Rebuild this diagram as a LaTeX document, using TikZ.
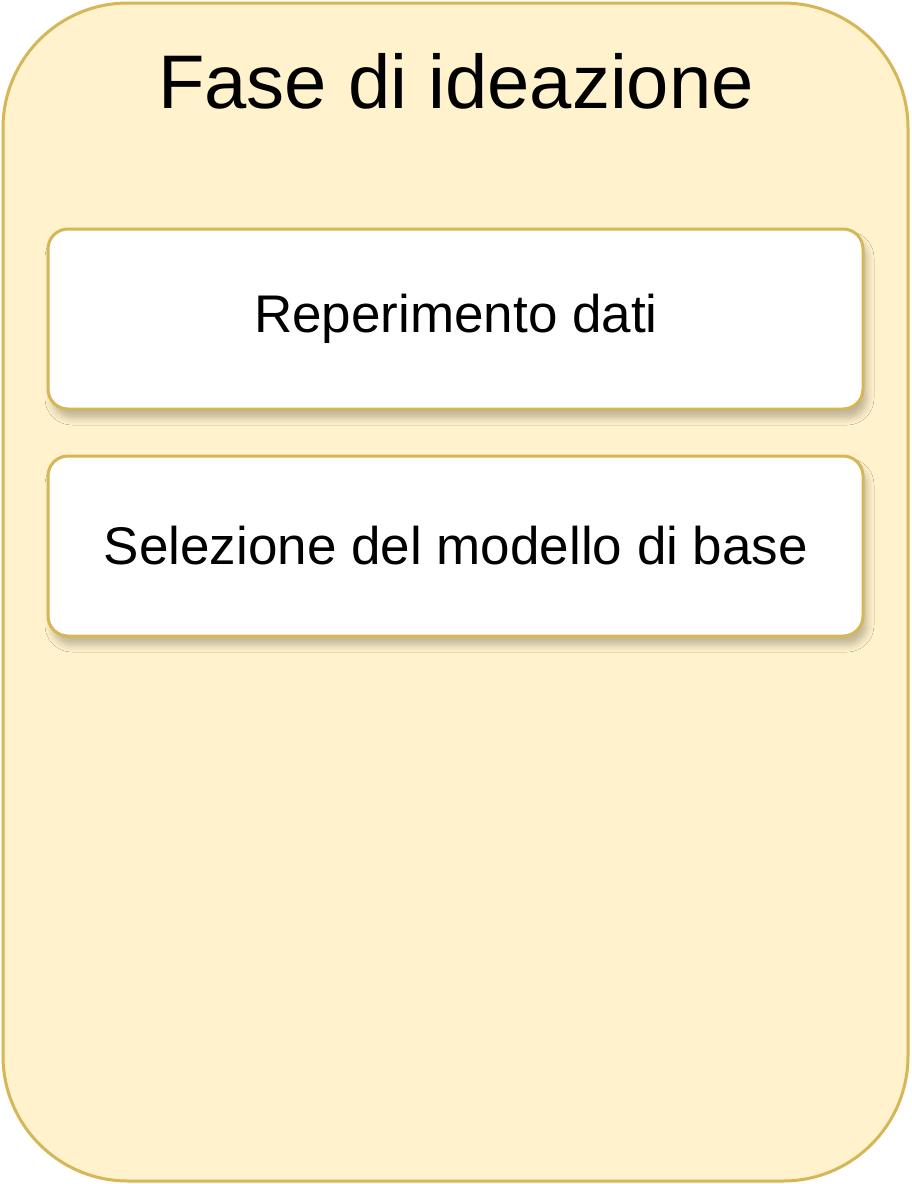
\documentclass[tikz,border=0pt]{standalone}
\usepackage{fontspec}
\setmainfont{Liberation Sans}
\usetikzlibrary{shadows.blur}
\definecolor{phasefill}{HTML}{FFF2CC}
\definecolor{phaseline}{HTML}{D6B656}
\begin{document}
\begin{tikzpicture}[x=1pt,y=1pt,
  phase/.style={draw=phaseline, line width=3pt, fill=phasefill, rounded corners=125pt},
  stepbox/.style={draw=phaseline, line width=3pt, fill=white, rounded corners=20pt,
    blur shadow={shadow xshift=4pt, shadow yshift=-9pt, shadow blur radius=7pt, shadow blur extra rounding=4pt, shadow opacity=25}},
  label/.style={font=\fontsize{53}{60}\selectfont}
]
\useasboundingbox (0,0) rectangle (912,-1184);
\fill[white] (0,0) rectangle (912,-1184);
\draw[phase] (3,-3) rectangle (908,-1181);
\node[anchor=base, font=\fontsize{76}{84}\selectfont] (title) at (456,-108) {Fase di ideazione};
\draw[stepbox] (48,-229) rectangle (863,-409);
\node[label] (a) at (456,-319) {Reperimento dati};
\draw[stepbox] (48,-456) rectangle (863,-636);
\node[label] (b) at (456,-546) {Selezione del modello di base};
\end{tikzpicture}
\end{document}
